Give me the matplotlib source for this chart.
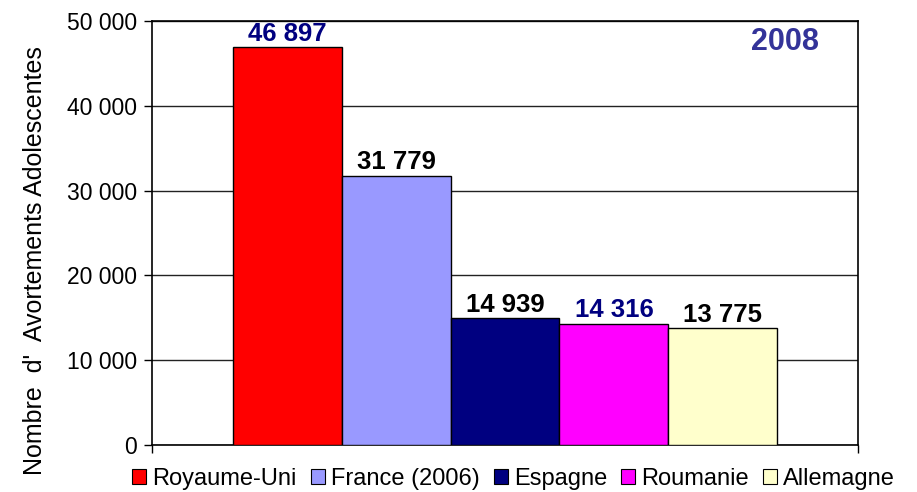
import numpy as np
import matplotlib
matplotlib.use('Agg')
import matplotlib.pyplot as plt
from matplotlib.patches import Patch

plt.rcParams['font.family'] = ['Liberation Sans', 'DejaVu Sans']

# données
pays = ['Royaume-Uni', 'France (2006)', 'Espagne', 'Roumanie', 'Allemagne']
avortements = [46897, 31779, 14939, 14316, 13775]
etiquettes = ['46 897', '31 779', '14 939', '14 316', '13 775']
couleurs = ['#FF0000', '#9999FF', '#000080', '#FF00FF', '#FFFFCC']
couleurs_texte = ['#000080', 'black', 'black', '#000080', 'black']
annee = '2008'

fig = plt.figure(figsize=(9.17, 4.92), dpi=100)
ax = fig.add_axes([0.1658, 0.0955, 0.77, 0.8618])

x = np.arange(len(pays))
bars = ax.bar(x, avortements, width=1.0, color=couleurs, edgecolor='black',
              linewidth=1, zorder=3)

for b, lab, c in zip(bars, etiquettes, couleurs_texte):
    ax.annotate(lab, (b.get_x() + b.get_width() / 2, b.get_height()),
                xytext=(0, 1), textcoords='offset points', ha='center', va='bottom',
                fontsize=18.5, fontweight='bold', color=c)

ax.set_xlim(-1.245, 5.245)
ax.set_ylim(0, 50000)
ax.set_yticks(np.arange(0, 50001, 10000))
ax.set_yticklabels(['0', '10 000', '20 000', '30 000', '40 000', '50 000'])
ax.tick_params(axis='y', labelsize=16.5, length=6, width=1, direction='out', pad=5)
ax.set_xticks([-1.245, 5.245])
ax.set_xticklabels([])
ax.tick_params(axis='x', length=6, width=1, direction='out')
ax.yaxis.grid(True, color='#222222', linewidth=1, zorder=0)
for s in ax.spines.values():
    s.set_color('black')
    s.set_linewidth(1.2)

ax.text(0.945, 0.985, annee, transform=ax.transAxes, ha='right', va='top',
        fontsize=22, fontweight='bold', color='#333399')

fig.text(0.038, 0.47, "Nombre  d'  Avortements Adolescentes", rotation=90,
         ha='center', va='center', fontsize=18)

handles = [Patch(facecolor=c, edgecolor='black', linewidth=0.8) for c in couleurs]
fig.legend(handles, pays, loc='center', bbox_to_anchor=(0.56, 0.026), ncol=5,
           frameon=False, fontsize=17, handlelength=0.6, handleheight=0.6,
           handletextpad=0.25, columnspacing=0.6, borderaxespad=0)

fig.savefig('out.png', dpi=100)
